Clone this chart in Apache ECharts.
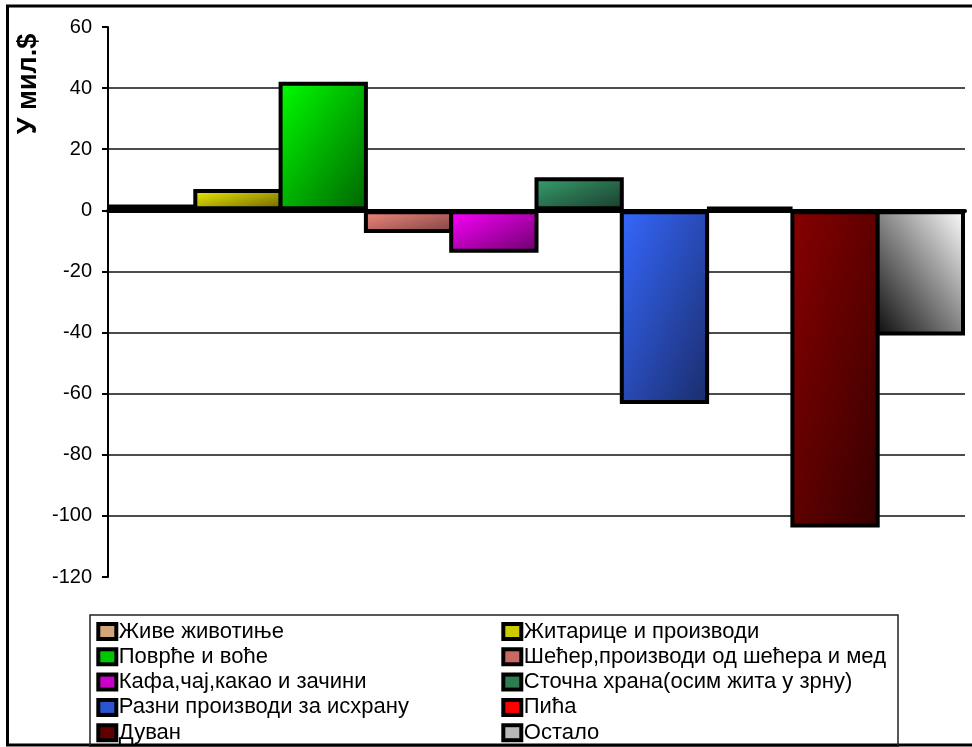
<!DOCTYPE html>
<html>
<head>
<meta charset="utf-8">
<script src="https://cdn.jsdelivr.net/npm/echarts@6/dist/echarts.min.js"></script>
<style>
html,body{margin:0;padding:0;background:#fff;}
#chart{width:972px;height:747px;}
</style>
</head>
<body>
<div id="chart"></div>
<script>
// Data
const categories = [
  'Живе животиње',
  'Житарице и производи',
  'Поврће и воће',
  'Шећер,производи од шећера и мед',
  'Кафа,чај,какао и зачини',
  'Сточна храна(осим жита у зрну)',
  'Разни производи за исхрану',
  'Пића',
  'Дуван',
  'Остало'
];
const values = [1.9, 7.0, 42.1, -7.4, -13.9, 10.8, -63.4, 1.2, -103.8, -41.0];
const yTicks = {min: -120, max: 60, interval: 20};
const yAxisTitle = 'У мил.$';

// Styles
const lightColors = ['#d9b08c', '#f2f200', '#00ff00', '#f88a80', '#ff00ff', '#37a072', '#3568ff', '#ff0000', '#880000', '#ffffff'];
const darkColors  = ['#8a6040', '#6a6000', '#006400', '#7a4242', '#6a006a', '#1a3a28', '#1a2c6a', '#900000', '#360000', '#0a0a0a'];
const legendColors = ['#d2a67a', '#cccc00', '#00c800', '#c86a64', '#c800c8', '#2e7d50', '#2a55d0', '#ff0000', '#600000', '#b8b8b8'];

// gradient so that colour varies with (x/w + y/h)/2, like the diagonal fill of the original
function grad(i, r) {
  const k = 1 + r * r;
  const gx = 2 * r * r / k, gy = 2 / k;
  if (i === 9) {
    return {type: 'linear', x: 0, y: 1, x2: gx, y2: 1 - gy, colorStops: [
      {offset: 0, color: darkColors[i]}, {offset: 1, color: lightColors[i]}]};
  }
  return {type: 'linear', x: 0, y: 0, x2: gx, y2: gy, colorStops: [
    {offset: 0, color: lightColors[i]}, {offset: 1, color: darkColors[i]}]};
}

function buildSeries(ratios) {
  return categories.map((name, i) => ({
    name: name,
    type: 'bar',
    data: [values[i]],
    barGap: '-4.5%',
    barCategoryGap: '0%',
    itemStyle: {color: grad(i, ratios ? ratios[i] : 1), borderColor: '#000', borderWidth: 4},
    emphasis: {disabled: true}
  }));
}

const FONT = '"Liberation Sans", Arial, sans-serif';
const rich = {
  g: {width: 4.5, height: 11},
  t: {fontFamily: FONT, fontSize: 22, color: '#000', lineHeight: 22}
};
legendColors.forEach((c, i) => {
  rich['m' + i] = {width: 14, height: 11, backgroundColor: c, borderColor: '#000', borderWidth: 4};
});
const legendCommon = {
  orient: 'vertical',
  top: 620.5,
  padding: 0,
  icon: 'none',
  itemWidth: 0,
  itemHeight: 13,
  itemGap: 3.3,
  formatter: function (name) {
    return '{m' + categories.indexOf(name) + '|}{g|}{t|' + name + '}';
  },
  textStyle: {fontFamily: FONT, fontSize: 22, color: '#000', lineHeight: 22, rich: rich},
  selectedMode: false
};

const chart = echarts.init(document.getElementById('chart'), null, {renderer: 'canvas'});
const option = {
  animation: false,
  backgroundColor: '#fff',
  grid: {left: 108, top: 27, width: 857, height: 550, containLabel: false},
  xAxis: {
    type: 'category',
    z: 5,
    data: [''],
    axisLine: {show: true, onZero: true, lineStyle: {color: '#000', width: 4}},
    axisTick: {show: false},
    axisLabel: {show: false},
    splitLine: {show: false}
  },
  yAxis: {
    type: 'value',
    min: yTicks.min,
    max: yTicks.max,
    interval: yTicks.interval,
    axisLine: {show: true, lineStyle: {color: '#000', width: 2}},
    axisTick: {show: true, length: 6, lineStyle: {color: '#000', width: 2}},
    axisLabel: {margin: 16, fontFamily: FONT, fontSize: 20, color: '#000'},
    splitLine: {show: true, showMinLine: false, showMaxLine: false, lineStyle: {color: '#111', width: 1.7}}
  },
  legend: [
    Object.assign({}, legendCommon, {left: 95.3, data: categories.filter((c, i) => i % 2 === 0)}),
    Object.assign({}, legendCommon, {left: 500.3, data: categories.filter((c, i) => i % 2 === 1)})
  ],
  series: buildSeries(null),
  graphic: [
    {type: 'rect', z: -1, silent: true, shape: {x: 7.5, y: 6, width: 1000, height: 739},
     style: {fill: null, stroke: '#000', lineWidth: 3}},
    {type: 'rect', z: -1, silent: true, shape: {x: 90, y: 615, width: 808, height: 132},
     style: {fill: null, stroke: '#222', lineWidth: 1.5}},
    {type: 'text', silent: true, x: 29, y: 84, rotation: Math.PI / 2,
     style: {text: yAxisTitle, fontFamily: FONT, fontSize: 27, fontWeight: 'bold', fill: '#000',
             align: 'center', verticalAlign: 'middle'}}
  ]
};
chart.setOption(option);

// second pass: use the laid-out bar sizes (from the library) to shape the diagonal gradients
const ratios = categories.map((c, i) => {
  const lay = chart.getModel().getSeriesByIndex(i).getData().getItemLayout(0);
  const w = Math.abs(lay.width) || 1, h = Math.abs(lay.height) || 1;
  return h / w;
});
chart.setOption({series: buildSeries(ratios)});
</script>
</body>
</html>
